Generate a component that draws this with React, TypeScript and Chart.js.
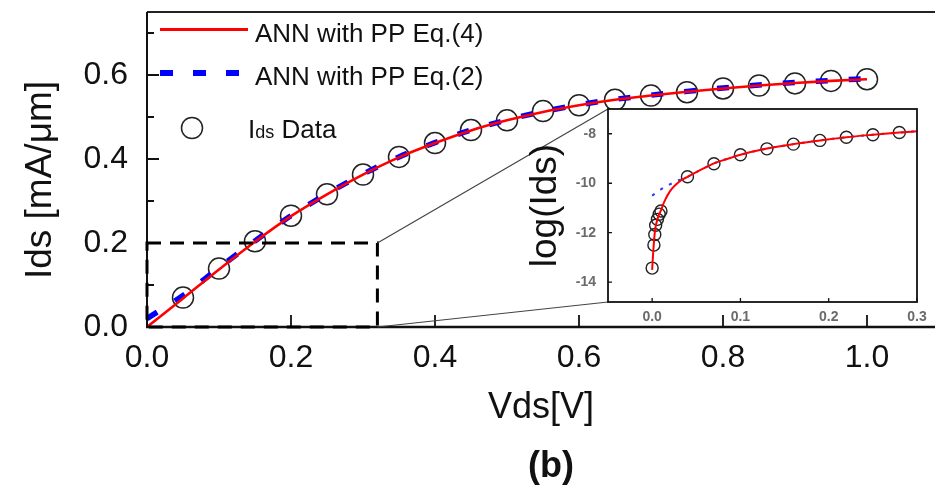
import { useEffect, useRef } from "react";
import { Chart, registerables } from "chart.js";

Chart.register(...registerables);

const FONT = "'Liberation Sans', Arial, Helvetica, sans-serif";

// ---------- main chart data ----------
const xTickValues = [0, 0.2, 0.4, 0.6, 0.8, 1.0];
const yTickValues = [0, 0.2, 0.4, 0.6];
const yMinorTickValues = [0.1, 0.3, 0.5, 0.7];

const dataVds = [0.05, 0.1, 0.15, 0.2, 0.25, 0.3, 0.35, 0.4, 0.45, 0.5, 0.55, 0.6, 0.65, 0.7, 0.75, 0.8, 0.85, 0.9, 0.95, 1.0];
const dataIds = [0.070, 0.139, 0.204, 0.265, 0.316, 0.363, 0.405, 0.438, 0.469, 0.492, 0.514, 0.528, 0.541, 0.551, 0.559, 0.568, 0.575, 0.580, 0.586, 0.590];

const annVds = [0, 0.05, 0.1, 0.15, 0.2, 0.25, 0.3, 0.35, 0.4, 0.45, 0.5, 0.55, 0.6, 0.65, 0.7, 0.75, 0.8, 0.85, 0.9, 0.95, 1.0];
const annEq4Ids = [0, 0.068, 0.137, 0.203, 0.264, 0.316, 0.363, 0.404, 0.438, 0.468, 0.492, 0.512, 0.528, 0.541, 0.551, 0.560, 0.568, 0.575, 0.581, 0.586, 0.590];
const annEq2Ids = [0.02, 0.075, 0.141, 0.205, 0.265, 0.317, 0.364, 0.405, 0.439, 0.469, 0.493, 0.513, 0.529, 0.542, 0.552, 0.561, 0.569, 0.576, 0.582, 0.587, 0.591];

const zoomRegion = { vds: 0.32, ids: 0.2 };

const legendLabels = ["ANN with PP Eq.(4)", "ANN with PP Eq.(2)", "Data"];

// ---------- inset data ----------
const insetXTickValues = [0, 0.1, 0.2, 0.3];
const insetYTickValues = [-14, -12, -10, -8];

const insetDataVds = [0, 0.002, 0.003, 0.004, 0.006, 0.008, 0.01, 0.04, 0.07, 0.1, 0.13, 0.16, 0.19, 0.22, 0.25, 0.28];
const insetDataLog = [-13.43, -12.5, -12.07, -11.7, -11.46, -11.25, -11.12, -9.74, -9.21, -8.85, -8.61, -8.42, -8.27, -8.14, -8.04, -7.95];

const insetEq4Vds = [0, 0.001, 0.002, 0.003, 0.004, 0.006, 0.008, 0.01, 0.012, 0.015, 0.018, 0.022, 0.027, 0.033, 0.04, 0.05, 0.06, 0.07, 0.085, 0.1, 0.13, 0.16, 0.19, 0.22, 0.25, 0.28, 0.3];
const insetEq4Log = [-13.5, -12.9, -12.4, -12.0, -11.75, -11.45, -11.25, -11.1, -10.9, -10.65, -10.45, -10.24, -10.05, -9.88, -9.74, -9.55, -9.37, -9.2, -9.02, -8.85, -8.6, -8.42, -8.27, -8.14, -8.04, -7.95, -7.9];

const insetEq2Vds = [0, 0.01, 0.02, 0.03, 0.04, 0.05, 0.07, 0.1, 0.13, 0.16, 0.19, 0.22, 0.25, 0.28, 0.3];
const insetEq2Log = [-10.5, -10.25, -10.05, -9.88, -9.74, -9.55, -9.2, -8.85, -8.6, -8.42, -8.27, -8.14, -8.04, -7.95, -7.9];

const pts = (xs: number[], ys: number[]) => xs.map((x, i) => ({ x, y: ys[i] }));

const CANVAS_W = 960;
const CANVAS_H = 491;

export default function App() {
  const mainRef = useRef<HTMLCanvasElement | null>(null);
  const insetRef = useRef<HTMLCanvasElement | null>(null);

  useEffect(() => {
    if (!mainRef.current || !insetRef.current) return;

    const mainPlugin = {
      id: "mainDecor",
      afterDraw(chart: any) {
        const { ctx, chartArea: a, scales } = chart;
        const sx = scales.x;
        const sy = scales.y;
        ctx.save();
        // frame
        ctx.strokeStyle = "#222";
        ctx.lineWidth = 2;
        ctx.beginPath();
        ctx.moveTo(a.left, a.top);
        ctx.lineTo(chart.width, a.top);
        ctx.stroke();
        ctx.strokeStyle = "#111";
        ctx.beginPath();
        ctx.moveTo(a.left, a.top);
        ctx.lineTo(a.left, a.bottom);
        ctx.stroke();
        ctx.lineWidth = 2.5;
        ctx.beginPath();
        ctx.moveTo(a.left - 1, a.bottom);
        ctx.lineTo(chart.width, a.bottom);
        ctx.stroke();
        // inward ticks
        ctx.lineWidth = 1.8;
        ctx.beginPath();
        yTickValues.forEach((v) => {
          const p = sy.getPixelForValue(v);
          ctx.moveTo(a.left, p);
          ctx.lineTo(a.left + 12, p);
        });
        yMinorTickValues.forEach((v) => {
          const p = sy.getPixelForValue(v);
          ctx.moveTo(a.left, p);
          ctx.lineTo(a.left + 7, p);
        });
        xTickValues.slice(1).forEach((v) => {
          const p = sx.getPixelForValue(v);
          ctx.moveTo(p, a.bottom);
          ctx.lineTo(p, a.bottom - 12);
        });
        ctx.stroke();
        // dashed zoom rectangle
        const rx0 = sx.getPixelForValue(0);
        const rx1 = sx.getPixelForValue(zoomRegion.vds);
        const ry0 = sy.getPixelForValue(0);
        const ry1 = sy.getPixelForValue(zoomRegion.ids);
        ctx.strokeStyle = "#000";
        ctx.lineWidth = 3;
        ctx.setLineDash([14, 9]);
        ctx.strokeRect(rx0, ry1, rx1 - rx0, ry0 - ry1);
        ctx.setLineDash([]);

        // titles
        ctx.fillStyle = "#111";
        ctx.textBaseline = "alphabetic";
        ctx.textAlign = "center";
        ctx.font = `37px ${FONT}`;
        ctx.save();
        ctx.translate(51, 180);
        ctx.rotate(-Math.PI / 2);
        ctx.fillText("Ids [mA/μm]", 0, 0);
        ctx.restore();
        ctx.font = `36px ${FONT}`;
        ctx.fillText("Vds[V]", 541, 418);
        ctx.font = `bold 36px ${FONT}`;
        ctx.fillText("(b)", 551, 477);

        // legend
        ctx.textAlign = "left";
        ctx.font = `26px ${FONT}`;
        ctx.strokeStyle = "#ff0000";
        ctx.lineWidth = 3;
        ctx.beginPath();
        ctx.moveTo(160, 29.5);
        ctx.lineTo(248, 29.5);
        ctx.stroke();
        ctx.fillText(legendLabels[0], 255, 42);
        ctx.strokeStyle = "#0000ff";
        ctx.lineWidth = 6;
        ctx.setLineDash([13, 20]);
        ctx.beginPath();
        ctx.moveTo(160, 73);
        ctx.lineTo(245, 73);
        ctx.stroke();
        ctx.setLineDash([]);
        ctx.fillText(legendLabels[1], 255, 85);
        ctx.strokeStyle = "#222";
        ctx.lineWidth = 1.5;
        ctx.beginPath();
        ctx.arc(192, 128, 10.5, 0, Math.PI * 2);
        ctx.stroke();
        let tx = 248;
        ctx.fillText("I", tx, 138);
        tx += ctx.measureText("I").width;
        ctx.font = `18px ${FONT}`;
        ctx.fillText("ds", tx, 138);
        tx += ctx.measureText("ds").width;
        ctx.font = `26px ${FONT}`;
        ctx.fillText(" " + legendLabels[2], tx, 138);
        ctx.restore();
      },
    };

    const main = new Chart(mainRef.current, {
      type: "scatter",
      data: {
        datasets: [
          {
            label: legendLabels[0],
            data: pts(annVds, annEq4Ids),
            showLine: true,
            borderColor: "#ff0000",
            borderWidth: 2.6,
            pointRadius: 0,
            cubicInterpolationMode: "monotone",
            tension: 0.4,
          },
          {
            label: legendLabels[1],
            data: pts(annVds, annEq2Ids),
            showLine: true,
            borderColor: "#0000ff",
            borderWidth: 5.5,
            borderDash: [12, 21],
            pointRadius: 0,
            cubicInterpolationMode: "monotone",
            tension: 0.4,
          },
          {
            label: legendLabels[2],
            data: pts(dataVds, dataIds),
            showLine: false,
            pointRadius: 10.5,
            pointBorderWidth: 1.5,
            pointBorderColor: "#222",
            pointBackgroundColor: "rgba(0,0,0,0)",
          },
        ],
      },
      options: {
        animation: false,
        responsive: false,
        layout: { padding: { left: 0, top: 7, right: CANVAS_W - 939, bottom: 0 } },
        plugins: { legend: { display: false }, tooltip: { enabled: false } },
        scales: {
          x: {
            type: "linear",
            min: 0,
            max: 1.1,
            grid: { display: false, drawTicks: false },
            border: { display: false },
            afterBuildTicks: (s: any) => {
              s.ticks = xTickValues.map((v) => ({ value: v }));
            },
            afterFit: (s: any) => {
              s.height = CANVAS_H - 327;
              s.paddingLeft = 0;
              s.paddingRight = 0;
            },
            ticks: {
              autoSkip: false,
              maxRotation: 0,
              padding: 12,
              color: "#111",
              font: { family: FONT, size: 32 },
              callback: (v: any) => Number(v).toFixed(1),
            },
          },
          y: {
            type: "linear",
            min: 0,
            max: 0.75,
            grid: { display: false, drawTicks: false },
            border: { display: false },
            afterBuildTicks: (s: any) => {
              s.ticks = yTickValues.map((v) => ({ value: v }));
            },
            afterFit: (s: any) => {
              s.width = 147;
              s.paddingTop = 0;
              s.paddingBottom = 0;
            },
            ticks: {
              autoSkip: false,
              padding: 19,
              color: "#111",
              font: { family: FONT, size: 32 },
              callback: (v: any) => Number(v).toFixed(1),
            },
          },
        },
      },
      plugins: [mainPlugin],
    } as any);

    const insetPlugin = {
      id: "insetDecor",
      beforeDraw(chart: any) {
        const { ctx, chartArea: a } = chart;
        ctx.save();
        ctx.fillStyle = "#ffffff";
        ctx.fillRect(a.left, a.top, a.right - a.left, a.bottom - a.top);
        ctx.restore();
      },
      afterDraw(chart: any) {
        const { ctx, chartArea: a, scales } = chart;
        const sx = scales.x;
        const sy = scales.y;
        ctx.save();
        // connection lines to the zoomed region of the main chart
        const mx = main.scales.x.getPixelForValue(zoomRegion.vds);
        const myTop = main.scales.y.getPixelForValue(zoomRegion.ids);
        const myBot = main.scales.y.getPixelForValue(0);
        ctx.strokeStyle = "#444";
        ctx.lineWidth = 1.2;
        ctx.beginPath();
        ctx.moveTo(mx, myTop);
        ctx.lineTo(a.left, a.top);
        ctx.moveTo(mx, myBot);
        ctx.lineTo(a.left, a.bottom);
        ctx.stroke();
        // box
        ctx.strokeStyle = "#111";
        ctx.lineWidth = 1.8;
        ctx.strokeRect(a.left, a.top, a.right - a.left, a.bottom - a.top);
        // inward ticks
        ctx.lineWidth = 1.3;
        ctx.beginPath();
        insetXTickValues.forEach((v) => {
          const p = sx.getPixelForValue(v);
          ctx.moveTo(p, a.bottom);
          ctx.lineTo(p, a.bottom - 4);
        });
        insetYTickValues.forEach((v) => {
          const p = sy.getPixelForValue(v);
          ctx.moveTo(a.left, p);
          ctx.lineTo(a.left + 4, p);
        });
        ctx.stroke();
        // title
        ctx.fillStyle = "#111";
        ctx.font = `37px ${FONT}`;
        ctx.textAlign = "center";
        ctx.textBaseline = "alphabetic";
        ctx.translate(556, (a.top + a.bottom) / 2);
        ctx.rotate(-Math.PI / 2);
        ctx.fillText("log(Ids)", 0, 0);
        ctx.restore();
      },
    };

    const inset = new Chart(insetRef.current, {
      type: "scatter",
      data: {
        datasets: [
          {
            label: "ANN with PP Eq.(4)",
            data: pts(insetEq4Vds, insetEq4Log),
            showLine: true,
            borderColor: "#ff0000",
            borderWidth: 2,
            pointRadius: 0,
            cubicInterpolationMode: "monotone",
            tension: 0.4,
          },
          {
            label: "ANN with PP Eq.(2)",
            data: pts(insetEq2Vds, insetEq2Log),
            showLine: true,
            borderColor: "#3333ff",
            borderWidth: 2,
            borderDash: [3, 7],
            pointRadius: 0,
            cubicInterpolationMode: "monotone",
            tension: 0.4,
          },
          {
            label: "Ids Data",
            data: pts(insetDataVds, insetDataLog),
            showLine: false,
            pointRadius: 6,
            pointBorderWidth: 1.4,
            pointBorderColor: "#222",
            pointBackgroundColor: "rgba(0,0,0,0)",
          },
        ],
      },
      options: {
        animation: false,
        responsive: false,
        layout: { padding: { left: 520, top: 109, right: CANVAS_W - 917, bottom: CANVAS_H - 302 - 30 } },
        plugins: { legend: { display: false }, tooltip: { enabled: false } },
        scales: {
          x: {
            type: "linear",
            min: -0.05,
            max: 0.3,
            grid: { display: false, drawTicks: false },
            border: { display: false },
            afterBuildTicks: (s: any) => {
              s.ticks = insetXTickValues.map((v) => ({ value: v }));
            },
            afterFit: (s: any) => {
              s.height = 30;
              s.paddingLeft = 0;
              s.paddingRight = 0;
            },
            ticks: {
              autoSkip: false,
              maxRotation: 0,
              padding: 7,
              color: "#6a6a6a",
              font: { family: FONT, size: 14, weight: "bold" },
              callback: (v: any) => Number(v).toFixed(1),
            },
          },
          y: {
            type: "linear",
            min: -14.8,
            max: -7,
            grid: { display: false, drawTicks: false },
            border: { display: false },
            afterBuildTicks: (s: any) => {
              s.ticks = insetYTickValues.map((v) => ({ value: v }));
            },
            afterFit: (s: any) => {
              s.width = 88;
              s.paddingTop = 0;
              s.paddingBottom = 0;
            },
            ticks: {
              autoSkip: false,
              padding: 12,
              color: "#6a6a6a",
              font: { family: FONT, size: 14, weight: "bold" },
              callback: (v: any) => String(v),
            },
          },
        },
      },
      plugins: [insetPlugin],
    } as any);

    return () => {
      inset.destroy();
      main.destroy();
    };
  }, []);

  return (
    <div
      style={{
        position: "fixed",
        left: 0,
        top: 0,
        width: 935,
        height: 491,
        overflow: "hidden",
        background: "#ffffff",
      }}
    >
      <canvas ref={mainRef} width={CANVAS_W} height={CANVAS_H} style={{ position: "absolute", left: 0, top: 0 }} />
      <canvas ref={insetRef} width={CANVAS_W} height={CANVAS_H} style={{ position: "absolute", left: 0, top: 0 }} />
    </div>
  );
}
